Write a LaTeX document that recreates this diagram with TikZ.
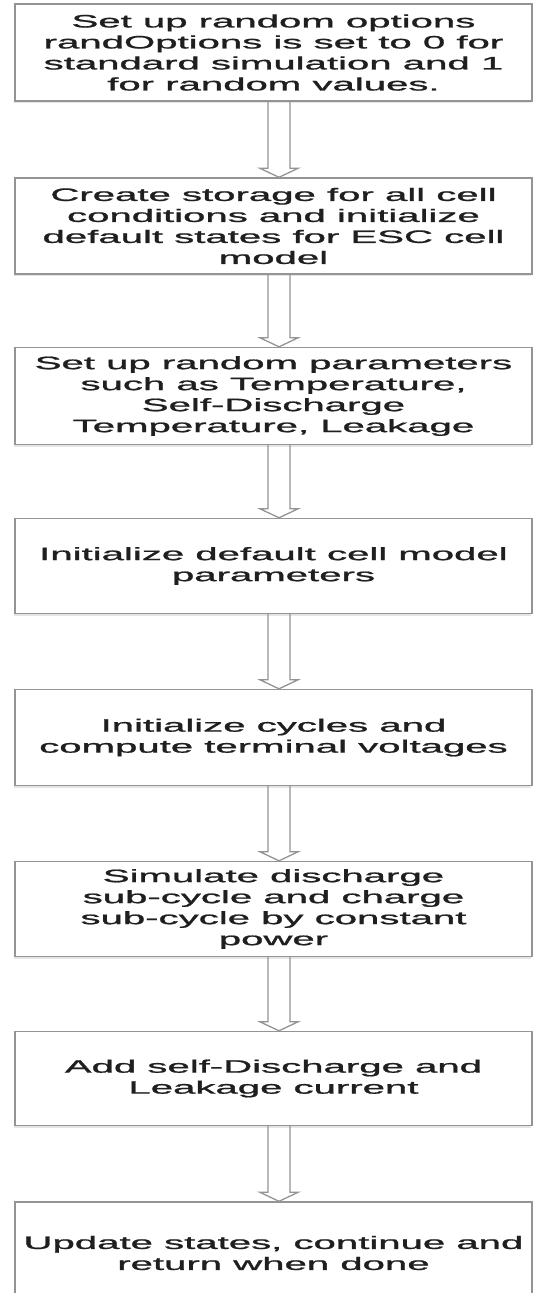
\documentclass[tikz,border=0pt]{standalone}
\usepackage{fontspec}
\setmainfont{Liberation Sans}
\newfontfamily\boxfont{Liberation Sans}[FakeBold=0.9]
\usepackage{graphicx}
\usetikzlibrary{calc,shadows}
\newcommand{\sx}[1]{\scalebox{2.23}[1]{#1}}
\newcommand{\flowarrow}[2]{%
  \draw[conn] ($(#1.south)+(-5.5,0)$) -- ($(#2.north)+(-5.5,-9)$) -- ($(#2.north)+(-13.5,-9)$)
    -- ($(#2.north)+(5.5,0)$) -- ($(#2.north)+(24.5,-9)$) -- ($(#2.north)+(16.5,-9)$)
    -- ($(#1.south)+(16.5,0)$);}
\begin{document}
\begin{tikzpicture}[x=1pt,y=-1pt,
  stepbox/.style={draw=black!42, line width=1.4pt, fill=white, minimum width=517pt,
    inner sep=0pt, align=center, font=\boxfont\fontsize{18}{21}\selectfont, text=black!88,
    drop shadow={shadow xshift=-1.5pt, shadow yshift=-2pt, opacity=0.25, fill=black!40}},
  conn/.style={draw=black!42, line width=1.3pt, line join=miter}]
\useasboundingbox (0,0) rectangle (539,1293);
\clip (0,0) rectangle (539,1293);
\fill[white] (0,0) rectangle (539,1293);
\node[stepbox, minimum height=97pt] (b1) at (273.5,52.5)
  {\sx{Set up random options}\\\sx{randOptions is set to 0 for}\\\sx{standard simulation and 1}\\\sx{for random values.}};
\node[stepbox, minimum height=96pt] (b2) at (273.5,226)
  {\sx{Create storage for all cell}\\\sx{conditions and initialize}\\\sx{default states for ESC cell}\\\sx{model}};
\node[stepbox, minimum height=97pt] (b3) at (273.5,396)
  {\sx{Set up random parameters}\\\sx{such as Temperature,}\\\sx{Self-Discharge}\\\sx{Temperature, Leakage}};
\node[stepbox, minimum height=95pt] (b4) at (273.5,566)
  {\sx{Initialize default cell model}\\\sx{parameters}};
\node[stepbox, minimum height=96pt] (b5) at (273.5,737.5)
  {\sx{Initialize cycles and}\\\sx{compute terminal voltages}};
\node[stepbox, minimum height=95pt] (b6) at (273.5,909)
  {\sx{Simulate discharge}\\\sx{sub-cycle and charge}\\\sx{sub-cycle by constant}\\\sx{power}};
\node[stepbox, minimum height=94pt] (b7) at (273.5,1078.5)
  {\sx{Add self-Discharge and}\\\sx{Leakage current}};
\node[stepbox, minimum height=102pt] (b8) at (273.5,1253)
  {\sx{Update states, continue and}\\\sx{return when done}};
\flowarrow{b1}{b2}
\flowarrow{b2}{b3}
\flowarrow{b3}{b4}
\flowarrow{b4}{b5}
\flowarrow{b5}{b6}
\flowarrow{b6}{b7}
\flowarrow{b7}{b8}
\end{tikzpicture}
\end{document}
